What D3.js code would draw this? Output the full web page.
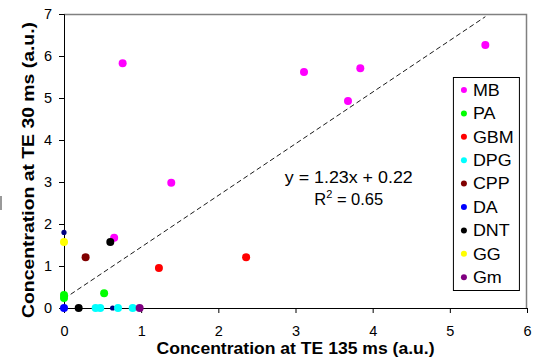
<!DOCTYPE html>
<html>
<head>
<meta charset="utf-8">
<script src="https://cdn.jsdelivr.net/npm/d3@7"></script>
<style>
  body { margin: 0; background: #fff; }
  text { font-family: Arial, "Liberation Sans", sans-serif; fill: #000; }
</style>
</head>
<body>
<svg id="chart" width="541" height="358"></svg>
<script>
// data
const seriesNames  = ["MB", "PA", "GBM", "DPG", "CPP", "DA", "DNT", "GG", "Gm"];
const seriesColors = ["#ff00ff", "#00ff00", "#ff0000", "#00ffff", "#800000", "#0000ff", "#000000", "#ffff00", "#800080"];

const mbPts  = [[0.76, 5.83], [3.11, 5.62], [3.84, 5.71], [3.68, 4.93], [5.46, 6.26], [1.39, 2.98], [0.65, 1.67]];
const paPts  = [[0, 0.31], [0, 0.24], [0.52, 0.35]];
const gbmPts = [[1.23, 0.95], [2.36, 1.21]];
const dpgPts = [[0.41, 0], [0.47, 0], [0.70, 0], [0.89, 0]];
const cppPts = [[0.28, 1.21]];
const daPts  = [[0, 0]];
const dntPts = [[0.19, 0], [0.60, 1.57]];
const ggPts  = [[0, 1.57]];
const gmPts  = [[0.98, 0]];
// small navy markers with no legend entry
const extraPts = [[0, 1.80], [0.63, 0]];

const seriesPts = [mbPts, paPts, gbmPts, dpgPts, cppPts, daPts, dntPts, ggPts, gmPts];

const xTicks = [0, 1, 2, 3, 4, 5, 6];
const yTicks = [0, 1, 2, 3, 4, 5, 6, 7];

const fitSlope = 1.23, fitIntercept = 0.22, fitR2 = 0.65;
const fitRange = [0, 5.46];

const svg = d3.select("#chart");

const margin = {top: 14, right: 14, bottom: 50, left: 64},
  width = 541 - margin.left - margin.right,
  height = 358 - margin.top - margin.bottom;

const g = svg.append("g")
  .attr("transform", `translate(${margin.left}, ${margin.top})`);

const x = d3.scaleLinear().domain([0, 6]).range([0, width]);
const y = d3.scaleLinear().domain([0, 7]).range([height, 0]);

// top / right frame in grey
g.append("path")
  .attr("d", `M0,0.5H${width - 0.5}V${height}`)
  .attr("fill", "none")
  .attr("stroke", "#808080")
  .attr("stroke-width", 1.5);

// axes
const xAxis = g.append("g")
  .attr("transform", `translate(0, ${height})`)
  .call(d3.axisBottom(x).tickValues(xTicks).tickSize(5).tickPadding(13).tickFormat(d3.format("d")));
const yAxis = g.append("g")
  .call(d3.axisLeft(y).tickValues(yTicks).tickSize(5).tickPadding(7).tickFormat(d3.format("d")));

[xAxis, yAxis].forEach(a => {
  a.select(".domain").attr("stroke", "#000");
  a.selectAll(".tick line").attr("stroke", "#000");
  a.selectAll("text")
    .style("font-family", "Arial, 'Liberation Sans', sans-serif")
    .style("font-size", "14.5px")
    .attr("fill", "#000");
});

// trend line
const line = d3.line().x(d => x(d)).y(d => y(fitSlope * d + fitIntercept));
g.append("path")
  .datum(fitRange)
  .attr("d", line)
  .attr("fill", "none")
  .attr("stroke", "#000")
  .attr("stroke-width", 0.9)
  .attr("stroke-dasharray", "5,3");

// points
g.append("g").selectAll("circle")
  .data(extraPts)
  .join("circle")
  .attr("cx", d => x(d[0]))
  .attr("cy", d => y(d[1]))
  .attr("r", 2.6)
  .attr("fill", "#000080");

seriesPts.forEach((pts, i) => {
  g.append("g").selectAll("circle")
    .data(pts)
    .join("circle")
    .attr("cx", d => x(d[0]))
    .attr("cy", d => y(d[1]))
    .attr("r", 4)
    .attr("fill", seriesColors[i]);
});

// equation
const eq = g.append("g").attr("transform", `translate(${x(3.69)}, 0)`);
eq.append("text")
  .attr("y", y(2.98))
  .attr("text-anchor", "middle")
  .attr("textLength", 128)
  .attr("lengthAdjust", "spacingAndGlyphs")
  .style("font-size", "16.5px")
  .text(`y = ${fitSlope}x + ${fitIntercept}`);
const r2 = eq.append("text")
  .attr("y", y(2.46))
  .attr("text-anchor", "middle")
  .style("font-size", "16.5px");
r2.append("tspan").text("R");
r2.append("tspan").attr("dy", -7).style("font-size", "11px").text("2");
r2.append("tspan").attr("dy", 7).text(` = ${fitR2}`);

// legend
const legend = g.append("g").attr("transform", `translate(${x(5.04)}, ${y(5.5)})`);
legend.append("rect")
  .attr("x", 0.5).attr("y", 0.5)
  .attr("width", 66).attr("height", 213)
  .attr("fill", "#fff")
  .attr("stroke", "#000")
  .attr("stroke-width", 1);
seriesNames.forEach((name, i) => {
  const row = legend.append("g").attr("transform", `translate(0, ${13 + i * 23.4})`);
  row.append("circle").attr("cx", 11).attr("cy", 0).attr("r", 3).attr("fill", seriesColors[i]);
  row.append("text")
    .attr("transform", "translate(20, 5.7) scale(1.12, 1)")
    .style("font-size", "16px")
    .text(name);
});

// axis titles
svg.append("text")
  .attr("x", margin.left + width / 2)
  .attr("y", 354)
  .attr("text-anchor", "middle")
  .attr("textLength", 278)
  .attr("lengthAdjust", "spacingAndGlyphs")
  .style("font-size", "16px")
  .style("font-weight", "bold")
  .text("Concentration at TE 135 ms (a.u.)");

svg.append("text")
  .attr("transform", "translate(34, 170) rotate(-90)")
  .attr("text-anchor", "middle")
  .attr("textLength", 296)
  .attr("lengthAdjust", "spacingAndGlyphs")
  .style("font-size", "17px")
  .style("font-weight", "bold")
  .text("Concentration at TE 30 ms (a.u.)");

// leftover edge mark
svg.append("rect").attr("x", 0).attr("y", 196).attr("width", 2).attr("height", 14).attr("fill", "#999");
</script>
</body>
</html>
